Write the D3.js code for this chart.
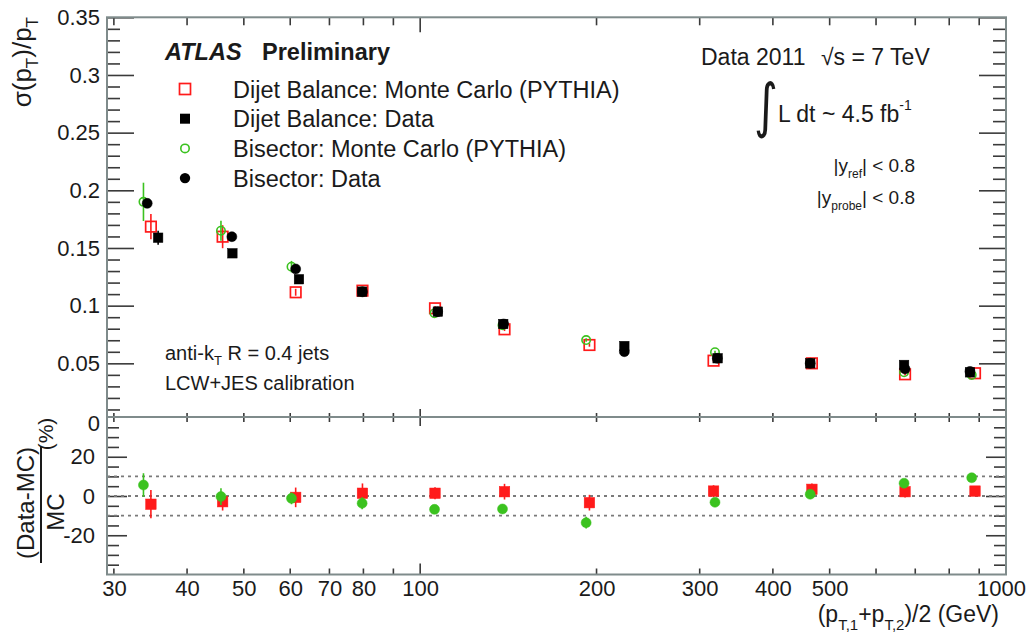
<!DOCTYPE html>
<html>
<head>
<meta charset="utf-8">
<script src="https://cdn.jsdelivr.net/npm/d3@7"></script>
<style>
  html, body { margin: 0; padding: 0; background: #fff; }
  svg { display: block; font-family: "Liberation Sans", Arial, Helvetica, sans-serif; }
</style>
</head>
<body>
<svg id="chart" width="1031" height="634"></svg>
<script>
// ---- jet pT resolution measurements, |y| < 0.8 ----
// Dijet balance, Monte Carlo (PYTHIA)
const dijetMcPt   = [34.7, 46.0, 61.3, 79.7, 106.0, 139.3, 194.5, 316.8, 466.3, 672.5, 885.3];
const dijetMcRes  = [0.1685, 0.1598, 0.1116, 0.1130, 0.0977, 0.0795, 0.0659, 0.0523, 0.0500, 0.0405, 0.0414];
const dijetMcErr  = [0.011, 0.010, 0.003, 0.002, 0.002, 0.0015, 0.0015, 0.0012, 0.001, 0.001, 0.001];
// Dijet balance, data
const dijetDataPt  = [35.7, 47.8, 62.1, 79.6, 107.2, 138.6, 223.1, 321.9, 463.2, 669.9, 868.0];
const dijetDataRes = [0.1589, 0.1454, 0.1229, 0.1121, 0.0948, 0.0841, 0.0650, 0.0544, 0.0500, 0.0486, 0.0422];
const dijetDataErr = [0.006, 0.002, 0.002, 0.001, 0.001, 0.001, 0.001, 0.001, 0.001, 0.001, 0.001];
// Bisector, Monte Carlo (PYTHIA)
const bisMcPt   = [33.7, 45.7, 60.3, 79.6, 105.8, 138.2, 192.0, 318.6, 463.2, 669.9, 873.9];
const bisMcRes  = [0.1900, 0.1650, 0.1338, 0.1120, 0.0934, 0.0830, 0.0702, 0.0596, 0.0500, 0.0422, 0.0399];
const bisMcErr  = [0.0166, 0.0087, 0.005, 0.002, 0.0015, 0.0015, 0.0015, 0.0012, 0.001, 0.001, 0.001];
// Bisector, data
const bisDataPt  = [34.2, 47.7, 61.3, 79.7, 107.1, 138.8, 223.1, 321.5, 463.2, 672.5, 868.0];
const bisDataRes = [0.1887, 0.1598, 0.1318, 0.1120, 0.0948, 0.0841, 0.0601, 0.0544, 0.0500, 0.0451, 0.0430];

// (Data-MC)/MC in percent
const dijetRatio    = [-4.2, -2.9, -0.7, 1.4, 1.4, 2.2, -3.4, 2.5, 3.4, 2.2, 2.5];
const dijetRatioErr = [7.2, 4.5, 5.0, 5.0, 3.0, 4.0, 4.0, 3.0, 3.0, 3.0, 2.5];
const bisRatio      = [5.6, -0.3, -1.2, -3.7, -6.8, -6.6, -13.6, -3.2, 0.9, 6.5, 9.3];
const bisRatioErr   = [6.0, 4.3, 3.0, 3.0, 2.0, 2.0, 3.0, 2.0, 2.0, 2.0, 1.5];

// axis ticks
const xTicksAll    = [30, 40, 50, 60, 70, 80, 90, 100, 200, 300, 400, 500, 600, 700, 800, 900, 1000];
const xTickLabels  = [30, 40, 50, 60, 70, 80, 100, 200, 300, 400, 500, 1000];
const yTopMajor    = [0, 0.05, 0.1, 0.15, 0.2, 0.25, 0.3, 0.35];
const yRatioMajor  = [-20, 0, 20];
const ratioBands   = [-10, 0, 10];

const legendLabels = [
  "Dijet Balance: Monte Carlo (PYTHIA)",
  "Dijet Balance: Data",
  "Bisector: Monte Carlo (PYTHIA)",
  "Bisector: Data"
];

// ---- layout ----
const frameL = 107, frameR = 1006;
const topT = 17.3, topB = 417;
const botT = 417, botB = 574.5;

const RED = "#ff1a1a", GREEN = "#3bc21f", BLACK = "#000";
const FRAME = "#7f8b8b", TICK = "#3a3a3a", TEXT = "#1a1a1a";

const svg = d3.select("#chart");

const x = d3.scaleLog().domain([29.2, 1000]).range([frameL, frameR]);
const yTop = d3.scaleLinear().domain([0, 0.35]).range([421, topT]);
const yRat = d3.scaleLinear().domain([-40, 40]).range([botB, 417.5]);

// ---- helpers ----
function styleAxis(g) {
  g.select(".domain").remove();
  g.selectAll(".tick line").attr("stroke", TICK).attr("stroke-width", 1.6);
  g.selectAll(".tick text").attr("fill", TEXT).attr("font-size", 22)
    .attr("font-family", '"Liberation Sans", Arial, sans-serif');
}
const fmtTop = d => String(+d.toFixed(2));

// ---- upper panel ----
const upper = svg.append("g");

// y minor ticks
const yTopMinor = d3.range(1, 35).map(i => i / 100).filter(v => Math.abs(v * 20 - Math.round(v * 20)) > 1e-6);
upper.append("g").attr("transform", `translate(${frameL},0)`)
  .call(d3.axisLeft(yTop).tickValues(yTopMinor).tickSize(-13).tickFormat(""))
  .call(styleAxis);
upper.append("g").attr("transform", `translate(${frameR},0)`)
  .call(d3.axisRight(yTop).tickValues(yTopMinor).tickSize(-13).tickFormat(""))
  .call(styleAxis);
// y major ticks + labels
const yTopAxis = upper.append("g").attr("transform", `translate(${frameL},0)`)
  .call(d3.axisLeft(yTop).tickValues(yTopMajor).tickSize(-27).tickPadding(7).tickFormat(fmtTop))
  .call(styleAxis);
yTopAxis.selectAll(".tick").filter(d => d === 0).select("line").remove();
yTopAxis.selectAll(".tick").filter(d => d === 0).select("text").attr("dy", "0.42em");
const yTopAxisR = upper.append("g").attr("transform", `translate(${frameR},0)`)
  .call(d3.axisRight(yTop).tickValues(yTopMajor).tickSize(-27).tickFormat(""))
  .call(styleAxis);
yTopAxisR.selectAll(".tick").filter(d => d === 0).remove();

// x ticks on top edge and bottom edge of the upper panel
const isDecade = v => v === 100 || v === 1000;
function xTickMarks(g, y0, dir, lenMinor, lenMajor) {
  g.selectAll(null).data(xTicksAll).join("line")
    .attr("x1", d => x(d)).attr("x2", d => x(d))
    .attr("y1", y0).attr("y2", d => y0 + dir * (isDecade(d) ? lenMajor : lenMinor))
    .attr("stroke", TICK).attr("stroke-width", 1.6);
}
xTickMarks(upper.append("g"), topT, 1, 8, 15);
xTickMarks(upper.append("g"), topB, -1, 4, 8);

// frame
upper.append("rect").attr("x", frameL).attr("y", topT)
  .attr("width", frameR - frameL).attr("height", topB - topT)
  .attr("fill", "none").attr("stroke", FRAME).attr("stroke-width", 2);

// ---- markers ----
function errBars(g, xs, ys, es, sx, sy, color, w) {
  g.selectAll(null).data(xs.map((d, i) => [d, ys[i], es[i]])).join("line")
    .attr("x1", d => sx(d[0])).attr("x2", d => sx(d[0]))
    .attr("y1", d => sy(d[1] - d[2])).attr("y2", d => sy(d[1] + d[2]))
    .attr("stroke", color).attr("stroke-width", w || 1.6);
}
function squares(g, xs, ys, sx, sy, size, color, filled) {
  g.selectAll(null).data(xs.map((d, i) => [d, ys[i]])).join("rect")
    .attr("x", d => sx(d[0]) - size / 2).attr("y", d => sy(d[1]) - size / 2)
    .attr("width", size).attr("height", size)
    .attr("fill", filled ? color : "none")
    .attr("stroke", color).attr("stroke-width", filled ? 0.5 : 1.7);
}
function circles(g, xs, ys, sx, sy, r, color, filled) {
  g.selectAll(null).data(xs.map((d, i) => [d, ys[i]])).join("circle")
    .attr("cx", d => sx(d[0])).attr("cy", d => sy(d[1])).attr("r", r)
    .attr("fill", filled ? color : "none")
    .attr("stroke", color).attr("stroke-width", filled ? 0.5 : 1.6);
}

const pts = upper.append("g");
errBars(pts, dijetMcPt, dijetMcRes, dijetMcErr, x, yTop, RED);
squares(pts, dijetMcPt, dijetMcRes, x, yTop, 10.5, RED, false);
errBars(pts, bisMcPt, bisMcRes, bisMcErr, x, yTop, GREEN);
circles(pts, bisMcPt, bisMcRes, x, yTop, 4.2, GREEN, false);
errBars(pts, dijetDataPt, dijetDataRes, dijetDataErr, x, yTop, BLACK);
squares(pts, dijetDataPt, dijetDataRes, x, yTop, 9.5, BLACK, true);
circles(pts, bisDataPt, bisDataRes, x, yTop, 5, BLACK, true);

// ---- legend ----
const leg = upper.append("g");
legendLabels.forEach((lab, i) => {
  const cy = 89 + i * 29.7;
  if (i === 0) leg.append("rect").attr("x", 185 - 5.5).attr("y", cy - 5.5).attr("width", 11).attr("height", 11)
    .attr("fill", "none").attr("stroke", RED).attr("stroke-width", 1.7);
  if (i === 1) leg.append("rect").attr("x", 185 - 5).attr("y", cy - 5).attr("width", 10).attr("height", 10).attr("fill", BLACK);
  if (i === 2) leg.append("circle").attr("cx", 185).attr("cy", cy).attr("r", 4.2)
    .attr("fill", "none").attr("stroke", GREEN).attr("stroke-width", 1.6);
  if (i === 3) leg.append("circle").attr("cx", 185).attr("cy", cy).attr("r", 5.2).attr("fill", BLACK);
  leg.append("text").attr("x", 233).attr("y", cy + 8.5).attr("font-size", 23.5).attr("fill", TEXT).text(lab);
});

// ---- annotations ----
const ann = svg.append("g").attr("fill", TEXT);
ann.append("text").attr("x", 165).attr("y", 59.5).attr("font-size", 23.5)
  .attr("font-weight", "bold").attr("font-style", "italic").text("ATLAS");
ann.append("text").attr("x", 262).attr("y", 59.5).attr("font-size", 23.5)
  .attr("font-weight", "bold").text("Preliminary");

ann.append("text").attr("x", 701).attr("y", 65).attr("font-size", 23).text("Data 2011");
ann.append("text").attr("x", 821).attr("y", 65).attr("font-size", 23).text("\u221As = 7 TeV");

// tall integral sign
ann.append("text").attr("transform", "translate(754,126) scale(1,1.29)")
  .attr("font-size", 46).attr("font-family", '"DejaVu Sans", sans-serif').text("\u222B");
const lum = ann.append("text").attr("x", 778).attr("y", 122).attr("font-size", 23);
lum.append("tspan").text("L dt ~ 4.5 fb");
lum.append("tspan").attr("font-size", 14).attr("dy", -12).text("-1");

const yr1 = ann.append("text").attr("x", 915).attr("y", 172).attr("font-size", 19).attr("text-anchor", "end");
yr1.append("tspan").text("|y");
yr1.append("tspan").attr("font-size", 12).attr("dy", 6).text("ref");
yr1.append("tspan").attr("dy", -6).text("| < 0.8");
const yr2 = ann.append("text").attr("x", 915).attr("y", 204).attr("font-size", 19).attr("text-anchor", "end");
yr2.append("tspan").text("|y");
yr2.append("tspan").attr("font-size", 12).attr("dy", 6).text("probe");
yr2.append("tspan").attr("dy", -6).text("| < 0.8");

const jets = ann.append("text").attr("x", 165).attr("y", 360).attr("font-size", 20);
jets.append("tspan").text("anti-k");
jets.append("tspan").attr("font-size", 13).attr("dy", 5).text("T");
jets.append("tspan").attr("dy", -5).text(" R = 0.4 jets");
ann.append("text").attr("x", 165).attr("y", 390).attr("font-size", 20).text("LCW+JES calibration");

// y title, upper panel
const yt = ann.append("text").attr("transform", "translate(31,17) rotate(-90)")
  .attr("text-anchor", "end").attr("font-size", 26);
yt.append("tspan").text("\u03C3(p");
yt.append("tspan").attr("font-size", 17).attr("dy", 7).text("T");
yt.append("tspan").attr("dy", -7).text(")/p");
yt.append("tspan").attr("font-size", 17).attr("dy", 7).text("T");

// ---- ratio panel ----
const lower = svg.append("g");
const yRatMinor = d3.range(-35, 40, 5).filter(v => v % 20 !== 0);
lower.append("g").attr("transform", `translate(${frameL},0)`)
  .call(d3.axisLeft(yRat).tickValues(yRatMinor).tickSize(-12).tickFormat(""))
  .call(styleAxis);
lower.append("g").attr("transform", `translate(${frameR},0)`)
  .call(d3.axisRight(yRat).tickValues(yRatMinor).tickSize(-12).tickFormat(""))
  .call(styleAxis);
lower.append("g").attr("transform", `translate(${frameL},0)`)
  .call(d3.axisLeft(yRat).tickValues(yRatioMajor).tickSize(-20).tickPadding(12).tickFormat(d => d))
  .call(styleAxis);
lower.append("g").attr("transform", `translate(${frameR},0)`)
  .call(d3.axisRight(yRat).tickValues(yRatioMajor).tickSize(-20).tickFormat(""))
  .call(styleAxis);

xTickMarks(lower.append("g"), botT, 1, 5, 9);
xTickMarks(lower.append("g"), botB, -1, 6, 11);

// x tick labels
const xLab = lower.append("g").attr("transform", `translate(0,${botB})`)
  .call(d3.axisBottom(x).tickValues(xTickLabels).tickSize(0).tickPadding(6).tickFormat(d => d))
  .call(styleAxis);
xLab.selectAll(".tick").filter(d => d === 1000).select("text").attr("dx", -5);

// reference lines at 0 and +-10 %
lower.selectAll(null).data(ratioBands).join("line")
  .attr("x1", frameL).attr("x2", frameR)
  .attr("y1", d => yRat(d)).attr("y2", d => yRat(d))
  .attr("stroke", "#7a7a7a").attr("stroke-width", 1.8).attr("stroke-dasharray", "3,4");

lower.append("rect").attr("x", frameL).attr("y", botT)
  .attr("width", frameR - frameL).attr("height", botB - botT)
  .attr("fill", "none").attr("stroke", FRAME).attr("stroke-width", 2);

const rpts = lower.append("g");
errBars(rpts, dijetMcPt, dijetRatio, dijetRatioErr, x, yRat, RED);
squares(rpts, dijetMcPt, dijetRatio, x, yRat, 10.5, RED, true);
errBars(rpts, bisMcPt, bisRatio, bisRatioErr, x, yRat, GREEN);
circles(rpts, bisMcPt, bisRatio, x, yRat, 5, GREEN, true);

// ratio y title: fraction (Data-MC)/MC (%)
const rt = svg.append("g").attr("fill", TEXT);
rt.append("text").attr("transform", "translate(34,503) rotate(-90)")
  .attr("text-anchor", "middle").attr("font-size", 24).text("(Data-MC)");
rt.append("line").attr("x1", 41).attr("x2", 41).attr("y1", 446).attr("y2", 563)
  .attr("stroke", TEXT).attr("stroke-width", 2);
rt.append("text").attr("transform", "translate(64,512) rotate(-90)")
  .attr("text-anchor", "middle").attr("font-size", 24).text("MC");
rt.append("text").attr("transform", "translate(53,434) rotate(-90)")
  .attr("text-anchor", "middle").attr("font-size", 21).text("(%)");

// x title
const xt = svg.append("text").attr("x", 999).attr("y", 621.5).attr("text-anchor", "end")
  .attr("font-size", 23).attr("fill", TEXT);
xt.append("tspan").text("(p");
xt.append("tspan").attr("font-size", 15).attr("dy", 8).text("T,1");
xt.append("tspan").attr("dy", -8).text("+p");
xt.append("tspan").attr("font-size", 15).attr("dy", 8).text("T,2");
xt.append("tspan").attr("dy", -8).text(")/2 (GeV)");
</script>
</body>
</html>
